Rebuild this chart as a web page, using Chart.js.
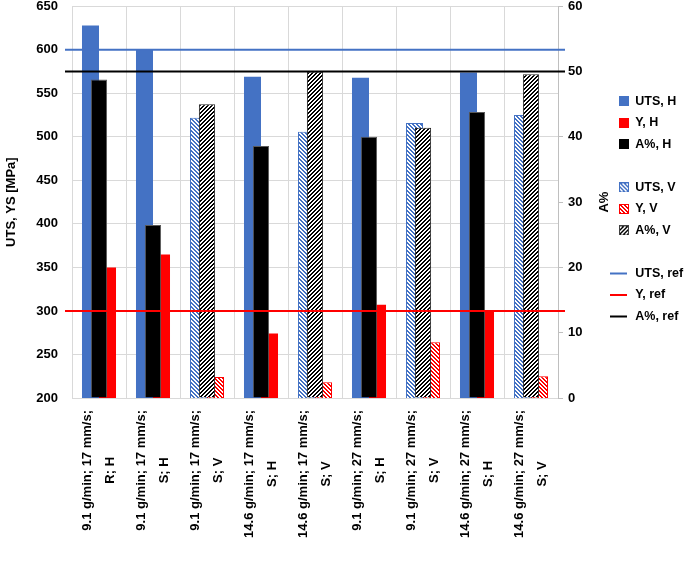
<!DOCTYPE html>
<html>
<head>
<meta charset="utf-8">
<script src="https://cdn.jsdelivr.net/npm/chart.js@4.4.1/dist/chart.umd.min.js"></script>
<style>
  html, body { margin: 0; padding: 0; background: #fff; }
</style>
</head>
<body>
<canvas id="chart" width="685" height="564"></canvas>
<script>
// process conditions (two text lines per category)
const categories = [
  ["9.1 g/min; 17 mm/s;", "R; H"],
  ["9.1 g/min; 17 mm/s;", "S; H"],
  ["9.1 g/min; 17 mm/s;", "S; V"],
  ["14.6 g/min; 17 mm/s;", "S; H"],
  ["14.6 g/min; 17 mm/s;", "S; V"],
  ["9.1 g/min; 27 mm/s;", "S; H"],
  ["9.1 g/min; 27 mm/s;", "S; V"],
  ["14.6 g/min; 27 mm/s;", "S; H"],
  ["14.6 g/min; 27 mm/s;", "S; V"]
];

// MPa
const utsH = [628, 601, null, 569, null, 568, null, 574, null];
const yieldH = [350, 365, null, 274, null, 307, null, 300, null];
const utsV = [null, null, 522, null, 506, null, 516, null, 525];
const yieldV = [null, null, 224, null, 218, null, 264, null, 225];
// %
const elongH = [48.8, 26.5, null, 38.6, null, 40.0, null, 43.8, null];
const elongV = [null, null, 45.0, null, 50.0, null, 41.4, null, 49.6];

// reference values
const refUts = 600;
const refYield = 300;
const refElong = 50;

// tick labels
const leftTicks = [200, 250, 300, 350, 400, 450, 500, 550, 600, 650];
const rightTicks = [0, 10, 20, 30, 40, 50, 60];

const BLUE = "#4472C4";
const RED = "#FF0000";
const BLACK = "#000000";
const FONT = '"Liberation Sans", Arial, sans-serif';

Chart.defaults.font.family = FONT;
Chart.defaults.font.weight = "bold";
Chart.defaults.color = "#000";

const canvas = document.getElementById("chart");
const mainCtx = canvas.getContext("2d");

// crisp 45deg hatch, period 4px
function hatchTile(color, up) {
  const t = document.createElement("canvas");
  t.width = 4;
  t.height = 4;
  const c = t.getContext("2d");
  c.fillStyle = "#fff";
  c.fillRect(0, 0, 4, 4);
  c.fillStyle = color;
  for (let x = 0; x < 4; x++) {
    for (let y = 0; y < 4; y++) {
      const k = up ? (x + y) % 4 : (x - y + 8) % 4;
      if (k < 2) c.fillRect(x, y, 1, 1);
    }
  }
  return t;
}

const hatchBlue = mainCtx.createPattern(hatchTile(BLUE, false), "repeat");
const hatchRed = mainCtx.createPattern(hatchTile(RED, false), "repeat");
const hatchBlack = mainCtx.createPattern(hatchTile(BLACK, true), "repeat");

// legend markers
function boxMarker(fill, tile, border) {
  const m = document.createElement("canvas");
  m.width = 10;
  m.height = 10;
  const c = m.getContext("2d");
  c.fillStyle = tile ? c.createPattern(tile, "repeat") : fill;
  c.fillRect(0, 0, 10, 10);
  if (border) {
    c.strokeStyle = border;
    c.lineWidth = 1;
    c.strokeRect(0.5, 0.5, 9, 9);
  }
  return m;
}
function lineMarker(color) {
  const m = document.createElement("canvas");
  m.width = 48;
  m.height = 4;
  const c = m.getContext("2d");
  c.fillStyle = color;
  c.fillRect(0, 1, 27, 2);
  return m;
}
const blankMarker = document.createElement("canvas");
blankMarker.width = 1;
blankMarker.height = 1;

const markers = [
  boxMarker(BLUE),
  boxMarker(RED),
  boxMarker(BLACK),
  boxMarker(null, hatchTile(BLUE, false), BLUE),
  boxMarker(null, hatchTile(RED, false), RED),
  boxMarker(null, hatchTile(BLACK, true), "#404040"),
  lineMarker(BLUE),
  lineMarker(RED),
  lineMarker(BLACK)
];

// ref lines, rotated two-line category labels, right axis title
const overlay = {
  id: "overlay",
  afterDatasetsDraw(chart) {
    const { ctx, chartArea } = chart;
    chart.data.datasets.forEach((ds) => {
      if (ds.refValue === undefined) return;
      const yPix = chart.scales[ds.yAxisID].getPixelForValue(ds.refValue);
      ctx.save();
      ctx.strokeStyle = ds.borderColor;
      ctx.lineWidth = 2;
      ctx.beginPath();
      ctx.moveTo(chartArea.left - 7, yPix);
      ctx.lineTo(chartArea.right + 7, yPix);
      ctx.stroke();
      ctx.restore();
    });
  },
  afterDraw(chart) {
    const { ctx, chartArea } = chart;
    const xs = chart.scales.x;
    ctx.save();
    ctx.font = "bold 13px " + FONT;
    ctx.fillStyle = "#000";
    ctx.textAlign = "center";
    ctx.textBaseline = "middle";
    categories.forEach((lines, i) => {
      const cx = xs.getPixelForTick(i);
      const w = Math.max(...lines.map((l) => ctx.measureText(l).width));
      ctx.save();
      ctx.translate(cx, chartArea.bottom + 12 + w / 2);
      ctx.rotate(-Math.PI / 2);
      lines.forEach((l, j) => {
        ctx.fillText(l, 0, (j - (lines.length - 1) / 2) * 23);
      });
      ctx.restore();
    });
    // "A%" reads bottom-to-top like the left title
    const r = chart.scales.y2;
    ctx.translate(r.right - 6, (chartArea.top + chartArea.bottom) / 2);
    ctx.rotate(-Math.PI / 2);
    ctx.fillText("A%", 0, 0);
    ctx.restore();
  }
};

const primary = { categoryPercentage: 0.63, barPercentage: 1.0, order: 1, yAxisID: "y" };
const secondary = { grouped: false, categoryPercentage: 0.3, barPercentage: 1.0, order: 0, yAxisID: "y2" };

new Chart(canvas, {
  type: "bar",
  data: {
    labels: categories,
    datasets: [
      { label: "UTS, H", data: utsH, stack: "uts", backgroundColor: BLUE, borderWidth: 0, ...primary },
      { label: "Y, H", data: yieldH, stack: "ys", backgroundColor: RED, borderWidth: 0, ...primary },
      { label: "A%, H", data: elongH, backgroundColor: BLACK, borderColor: "#595959", borderWidth: 1, ...secondary },
      { label: "UTS, V", data: utsV, stack: "uts", backgroundColor: hatchBlue, borderColor: BLUE, borderWidth: 1, ...primary },
      { label: "Y, V", data: yieldV, stack: "ys", backgroundColor: hatchRed, borderColor: RED, borderWidth: 1, ...primary },
      { label: "A%, V", data: elongV, backgroundColor: hatchBlack, borderColor: "#262626", borderWidth: 1, ...secondary },
      { type: "line", label: "UTS, ref", data: [], refValue: refUts, yAxisID: "y", borderColor: BLUE, borderWidth: 2, pointRadius: 0 },
      { type: "line", label: "Y, ref", data: [], refValue: refYield, yAxisID: "y", borderColor: RED, borderWidth: 2, pointRadius: 0 },
      { type: "line", label: "A%, ref", data: [], refValue: refElong, yAxisID: "y2", borderColor: BLACK, borderWidth: 2, pointRadius: 0 }
    ]
  },
  options: {
    responsive: false,
    devicePixelRatio: 1,
    animation: false,
    layout: { padding: { top: 0, right: 0, bottom: 166, left: 0 } },
    scales: {
      x: {
        offset: true,
        grid: { offset: true, color: "#d9d9d9", drawTicks: false },
        border: { display: false },
        ticks: { display: false }
      },
      y: {
        position: "left",
        stacked: false,
        min: leftTicks[0],
        max: leftTicks[leftTicks.length - 1],
        // small lineHeight keeps the top label from pushing the plot down
        ticks: { stepSize: leftTicks[1] - leftTicks[0], padding: 0, font: { size: 13, weight: "bold", lineHeight: 0.2 } },
        grid: { color: "#d9d9d9", drawTicks: true, tickLength: 14, tickColor: "rgba(0,0,0,0)" },
        border: { display: false },
        title: { display: true, text: "UTS, YS [MPa]", font: { size: 13, weight: "bold" }, padding: { top: 4, bottom: 0 } },
        afterFit(s) { s.width = 72; }
      },
      y2: {
        position: "right",
        min: rightTicks[0],
        max: rightTicks[rightTicks.length - 1],
        ticks: { stepSize: rightTicks[1] - rightTicks[0], padding: 5, font: { size: 13, weight: "bold", lineHeight: 0.2 } },
        grid: { drawOnChartArea: false, color: "#bfbfbf", tickLength: 5 },
        border: { display: true, color: "#bfbfbf" },
        title: { display: false, text: "A%" },
        afterFit(s) { s.width = 52; }
      }
    },
    plugins: {
      tooltip: { enabled: false },
      legend: {
        position: "right",
        align: "start",
        fullSize: false,
        maxWidth: 75,
        onClick: null,
        title: { display: true, text: "", font: { size: 12 }, padding: { top: 0, bottom: 65.5 } },
        labels: {
          usePointStyle: true,
          pointStyleWidth: 10,
          padding: 9,
          color: "#000",
          font: { size: 12.5, weight: "bold" },
          generateLabels(chart) {
            const items = Chart.defaults.plugins.legend.labels.generateLabels(chart)
              .sort((a, b) => a.datasetIndex - b.datasetIndex);
            items.forEach((it) => { it.pointStyle = markers[it.datasetIndex]; });
            const blank = () => ({
              text: "", pointStyle: blankMarker, fillStyle: "rgba(0,0,0,0)",
              strokeStyle: "rgba(0,0,0,0)", lineWidth: 0, hidden: false, datasetIndex: -1
            });
            items.splice(6, 0, blank());
            items.splice(3, 0, blank());
            return items;
          }
        }
      }
    }
  },
  plugins: [overlay]
});
</script>
</body>
</html>
